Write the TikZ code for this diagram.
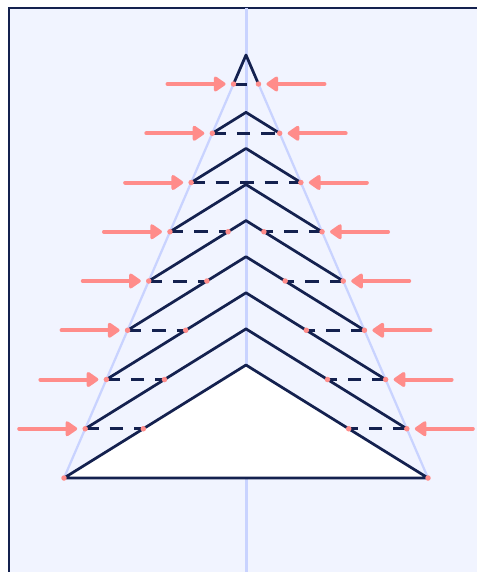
\documentclass[tikz,border=0pt]{standalone}
\usetikzlibrary{arrows.meta}
\definecolor{navy}{HTML}{14214F}
\definecolor{paleblue}{HTML}{F1F4FF}
\definecolor{guide}{HTML}{C9D3FF}
\definecolor{salmon}{HTML}{FF8C8A}
\begin{document}
\begin{tikzpicture}[x=0.02cm, y=-0.02cm,
    guideline/.style={guide, line width=0.06cm},
    layer/.style={navy, line width=0.055cm, line join=round},
    front/.style={navy, line width=0.06cm, dash pattern=on 0.27cm off 0.22cm},
    push/.style={salmon, line width=0.08cm, line cap=round, -{Triangle[length=0.26cm, width=0.34cm, round]}},
    spot/.style={circle, fill=salmon, inner sep=0pt, minimum size=0.11cm},
]
    \clip (0,0) rectangle (477,572);
    % frame
    \draw[navy, line width=0.04cm, fill=paleblue] (9,8) rectangle (520,620);

    % axis and envelope
    \draw[guideline] (246,8) -- (246,572);
    \coordinate (tip) at (246,55);
    \coordinate (bl) at (64,478);
    \coordinate (br) at (428,478);
    \draw[guideline, line width=0.045cm] (bl) -- (tip) -- (br);

    % seed
    \draw[layer, fill=white] (bl) -- (246,365) -- (br) -- cycle;

    % step edges on the envelope
    \foreach \k in {0,...,8} {
        \pgfmathsetmacro\yh{84+49.25*\k}
        \pgfmathsetmacro\dx{(\yh-55)/423*182}
        \coordinate (L\k) at (246-\dx,\yh);
        \coordinate (R\k) at (246+\dx,\yh);
    }

    % layers
    \draw[layer] (L0) -- (tip) -- (R0);
    \foreach \k in {1,...,7} {
        \pgfmathsetmacro\ya{14.7+0.7328*(84+49.25*\k)}
        \coordinate (apex\k) at (246,\ya);
        \draw[layer] (L\k) -- (apex\k) -- (R\k);
    }

    % fronts
    \foreach \k in {0,...,7} {
        \ifnum\k<3
            \draw[front] (L\k) -- (R\k);
        \else
            \pgfmathsetmacro\yh{84+49.25*\k}
            \pgfmathsetmacro\di{(\yh-14.7-0.7328*(\yh+49.25))/113*182}
            \coordinate (il\k) at (246-\di,\yh);
            \coordinate (ir\k) at (246+\di,\yh);
            \draw[front] (L\k) -- (il\k);
            \draw[front] (R\k) -- (ir\k);
            \node[spot] (dl\k) at (il\k) {};
            \node[spot] (dr\k) at (ir\k) {};
        \fi
    }
    \foreach \k in {0,...,8} {
        \node[spot] (sl\k) at (L\k) {};
        \node[spot] (sr\k) at (R\k) {};
    }

    % flux
    \foreach \k in {0,...,7} {
        \draw[push] ([xshift=-1.32cm]L\k) -- ([xshift=-0.16cm]L\k);
        \draw[push] ([xshift=1.32cm]R\k) -- ([xshift=0.16cm]R\k);
    }
\end{tikzpicture}
\end{document}
